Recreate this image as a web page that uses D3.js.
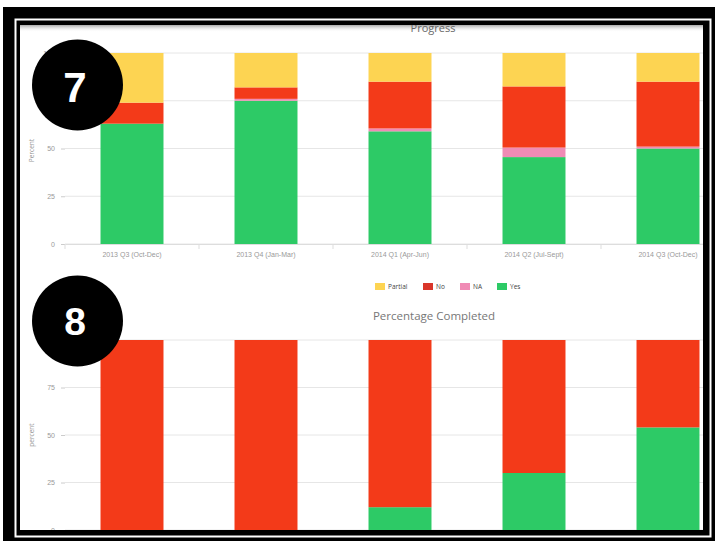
<!DOCTYPE html>
<html><head><meta charset="utf-8">
<script src="https://cdn.jsdelivr.net/npm/d3@7"></script>
<style>html,body{margin:0;padding:0;background:#fff;}svg{display:block;font-family:"Open Sans",sans-serif;}</style>
</head><body><svg id="c" width="715" height="544"></svg>
<script>
const categories = ["2013 Q3 (Oct-Dec)", "2013 Q4 (Jan-Mar)", "2014 Q1 (Apr-Jun)", "2014 Q2 (Jul-Sept)", "2014 Q3 (Oct-Dec)"];
const progressYes = [63, 75, 59, 45.5, 50];
const progressNA = [0, 1, 1.5, 5, 1];
const progressNo = [11, 6, 24.5, 32, 34];
const progressPartial = [26, 18, 15, 17.5, 15];
const completedYes = [0, 0, 12, 30, 54];
const completedNo = [100, 100, 88, 70, 46];
const yTicks = [0, 25, 50, 75, 100];
const legendLabels = ["Partial", "No", "NA", "Yes"];
const titles = ["Progress", "Percentage Completed"];
const axisTitles = ["Percent", "percent"];
const badges = ["7", "8"];

const colors = {Partial:"#fdd452", No:"#f33a19", NA:"#f08bb5", Yes:"#2dca66"};
const svg = d3.select("#c");

// frame
svg.append("rect").attr("x",3).attr("y",7).attr("width",712).attr("height",534).attr("fill","#000");
svg.append("rect").attr("x",15.5).attr("y",19.5).attr("width",695).attr("height",517).attr("fill","none").attr("stroke","#fff").attr("stroke-width",2);
svg.append("rect").attr("x",20).attr("y",25).attr("width",683).attr("height",505).attr("fill","#fff");
const defs = svg.append("defs");
const g1 = defs.append("linearGradient").attr("id","sh").attr("x1",0).attr("y1",0).attr("x2",0).attr("y2",1);
g1.append("stop").attr("offset",0).attr("stop-color","#aaa");
g1.append("stop").attr("offset",1).attr("stop-color","#fff").attr("stop-opacity",0);
defs.append("clipPath").attr("id","clip").append("rect").attr("x",20).attr("y",25).attr("width",683).attr("height",505);

const root = svg.append("g").attr("clip-path","url(#clip)");

const x = d3.scaleBand().domain(categories).range([65, 735]).paddingInner(0.53).paddingOuter(0.265);

function chart(yRange, series, keys, idx, showXAxis) {
  const y = d3.scaleLinear().domain([0,100]).range(yRange);
  const g = root.append("g");
  g.selectAll(".grid").data(yTicks).join("line")
    .attr("x1",65).attr("x2",703).attr("y1",d=>y(d)).attr("y2",d=>y(d))
    .attr("stroke","#e6e6e6").attr("stroke-width",1);
  const ya = g.append("g").attr("transform","translate(65,0)")
    .call(d3.axisLeft(y).tickValues(yTicks).tickSize(4).tickPadding(6));
  ya.select(".domain").remove();
  ya.selectAll("line").attr("stroke","#ccc");
  ya.selectAll("text").attr("fill","#999").attr("font-size",7);
  const rows = categories.map((c,i)=>{const o={cat:c}; keys.forEach(k=>o[k]=series[k][i]); return o;});
  const stack = d3.stack().keys(keys)(rows);
  g.selectAll(".layer").data(stack).join("g").attr("fill",d=>colors[d.key])
    .selectAll("rect").data(d=>d).join("rect")
    .attr("x",d=>x(d.data.cat)).attr("width",x.bandwidth())
    .attr("y",d=>y(d[1])).attr("height",d=>Math.max(0,y(d[0])-y(d[1])));
  if (showXAxis) {
    const xa = g.append("g").attr("transform",`translate(0,${y(0)})`)
      .call(d3.axisBottom(x).tickSize(0).tickPadding(8));
    xa.select(".domain").attr("stroke","#ddd");
    xa.selectAll("text").attr("fill","#999").attr("font-size",7);
    const step = x.step();
    g.selectAll(".xt").data(d3.range(categories.length+1)).join("line")
      .attr("x1",d=>65+d*step).attr("x2",d=>65+d*step)
      .attr("y1",y(0)).attr("y2",y(0)+5).attr("stroke","#ddd");
  }
  g.append("text").attr("transform",`translate(34,${(yRange[0]+yRange[1])/2 + (idx?-0:2)}) rotate(-90)`)
    .attr("text-anchor","middle").attr("font-size",6.5).attr("fill","#999").text(axisTitles[idx]);
  return y;
}

chart([244,53], {Yes:progressYes, NA:progressNA, No:progressNo, Partial:progressPartial}, ["Yes","NA","No","Partial"], 0, true);
chart([530,340], {Yes:completedYes, No:completedNo}, ["Yes","No"], 1, false);

root.append("rect").attr("x",20).attr("y",25).attr("width",683).attr("height",7).attr("fill","url(#sh)");

root.append("text").attr("x",433).attr("y",32).attr("text-anchor","middle").attr("font-size",11).attr("fill","#666").text(titles[0]);
root.append("text").attr("x",434).attr("y",320).attr("text-anchor","middle").attr("font-size",11.5).attr("fill","#777").text(titles[1]);

const legX = [375, 423, 460, 497];
const lg = root.append("g");
legendLabels.forEach((l,i)=>{
  lg.append("rect").attr("x",legX[i]).attr("y",283).attr("width",10).attr("height",7).attr("fill", l==="No" ? "#d9362a" : colors[l]);
  lg.append("text").attr("x",legX[i]+13).attr("y",289).attr("font-size",6.5).attr("fill","#444").text(l);
});

const bc = [[77.5,85,102,42],[77.5,321,335,39]];
badges.forEach((b,i)=>{
  root.append("circle").attr("cx",bc[i][0]).attr("cy",bc[i][1]).attr("r",45.5).attr("fill","#000");
  root.append("text").attr("x",75).attr("y",bc[i][2]).attr("text-anchor","middle")
    .attr("font-family","Liberation Sans, Arial, sans-serif").attr("font-weight","bold")
    .attr("font-size",bc[i][3]).attr("fill","#fff").text(b);
});
</script></body></html>
